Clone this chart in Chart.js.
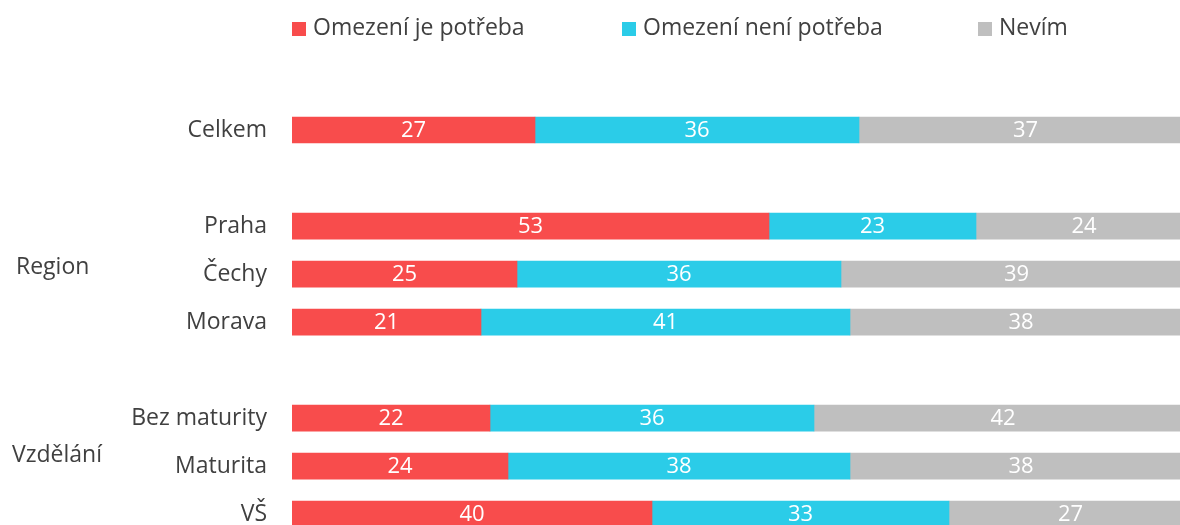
<!DOCTYPE html>
<html>
<head>
<meta charset="utf-8">
<script src="https://cdn.jsdelivr.net/npm/chart.js@4.4.1/dist/chart.umd.min.js"></script>
<style>
  html, body { margin: 0; padding: 0; background: #fff; overflow: hidden; width: 1180px; height: 525px; }
  #wrap { position: absolute; left: 0; top: 0; width: 1192px; height: 580px; }
  #legend { position: absolute; left: 0; top: 0; width: 1180px; height: 50px; font-family: "Open Sans", sans-serif; font-size: 23px; color: #404040; }
  .item { position: absolute; top: 10px; white-space: nowrap; }
  .box { display: inline-block; width: 14px; height: 14px; margin-right: 7px; vertical-align: -1px; }
</style>
</head>
<body>
<div id="wrap"><canvas id="chart" width="1192" height="577"></canvas></div>
<div id="legend"></div>
<script>
// kategorie (prázdné řádky = mezery mezi skupinami)
const categories = ['Celkem', '', 'Praha', 'Čechy', 'Morava', '', 'Bez maturity', 'Maturita', 'VŠ'];

const seriesNames = ['Omezení je potřeba', 'Omezení není potřeba', 'Nevím'];
const seriesColors = ['#F84C4C', '#2BCCE8', '#BFBFBF'];

const potrebaValues   = [27, null, 53, 25, 21, null, 22, 24, 40];
const nepotrebaValues = [36, null, 23, 36, 41, null, 36, 38, 33];
const nevimValues     = [37, null, 24, 39, 38, null, 42, 38, 27];

// skupinové popisky vlevo a řádek, ke kterému patří
const groupLabels = ['Region', 'Vzdělání'];
const groupRows = ['Čechy', 'Maturita'];

const fontFamily = '"Open Sans", sans-serif';
const textColor = '#404040';

// legenda v HTML
const legendX = [292, 622, 978];
const legendEl = document.getElementById('legend');
seriesNames.forEach(function(name, i) {
    const item = document.createElement('div');
    item.className = 'item';
    item.style.left = legendX[i] + 'px';
    item.innerHTML = '<span class="box" style="background:' + seriesColors[i] + '"></span>' + name;
    legendEl.appendChild(item);
});

// hodnoty uvnitř pruhů
const valueLabels = {
    id: 'valueLabels',
    afterDatasetsDraw(chart) {
        const ctx = chart.ctx;
        ctx.save();
        ctx.font = '22px ' + fontFamily;
        ctx.fillStyle = '#ffffff';
        ctx.textAlign = 'center';
        ctx.textBaseline = 'middle';
        chart.data.datasets.forEach(function(ds, i) {
            chart.getDatasetMeta(i).data.forEach(function(bar, j) {
                const v = ds.data[j];
                if (v === null || v === undefined) return;
                ctx.fillText(String(v), (bar.x + bar.base) / 2, bar.y + 1);
            });
        });
        ctx.restore();
    }
};

// popisky skupin (Region, Vzdělání)
const groupText = {
    id: 'groupText',
    afterDraw(chart) {
        const ctx = chart.ctx;
        const yScale = chart.scales.y;
        const offsets = [{x: 16, dy: -7}, {x: 12, dy: -11}];
        ctx.save();
        ctx.font = '23px ' + fontFamily;
        ctx.fillStyle = textColor;
        ctx.textAlign = 'left';
        ctx.textBaseline = 'middle';
        groupLabels.forEach(function(label, i) {
            const idx = categories.indexOf(groupRows[i]);
            ctx.fillText(label, offsets[i].x, yScale.getPixelForValue(idx) + offsets[i].dy);
        });
        ctx.restore();
    }
};

new Chart(document.getElementById('chart'), {
    type: 'bar',
    data: {
        labels: categories,
        datasets: [
            { label: seriesNames[0], data: potrebaValues, backgroundColor: seriesColors[0] },
            { label: seriesNames[1], data: nepotrebaValues, backgroundColor: seriesColors[1] },
            { label: seriesNames[2], data: nevimValues, backgroundColor: seriesColors[2] }
        ]
    },
    options: {
        indexAxis: 'y',
        responsive: false,
        animation: false,
        datasets: {
            bar: { barThickness: 26, borderWidth: 0 }
        },
        layout: { padding: { top: 106, bottom: 4, left: 0, right: 0 } },
        scales: {
            x: { stacked: true, min: 0, max: 100, display: false },
            y: {
                stacked: true,
                grid: { display: false, drawTicks: false },
                border: { display: false },
                afterFit: function(scale) { scale.width = 292; },
                ticks: {
                    padding: 25,
                    color: textColor,
                    font: { family: fontFamily, size: 23 }
                }
            }
        },
        plugins: {
            legend: { display: false },
            tooltip: { enabled: false }
        }
    },
    plugins: [valueLabels, groupText]
});
</script>
</body>
</html>
